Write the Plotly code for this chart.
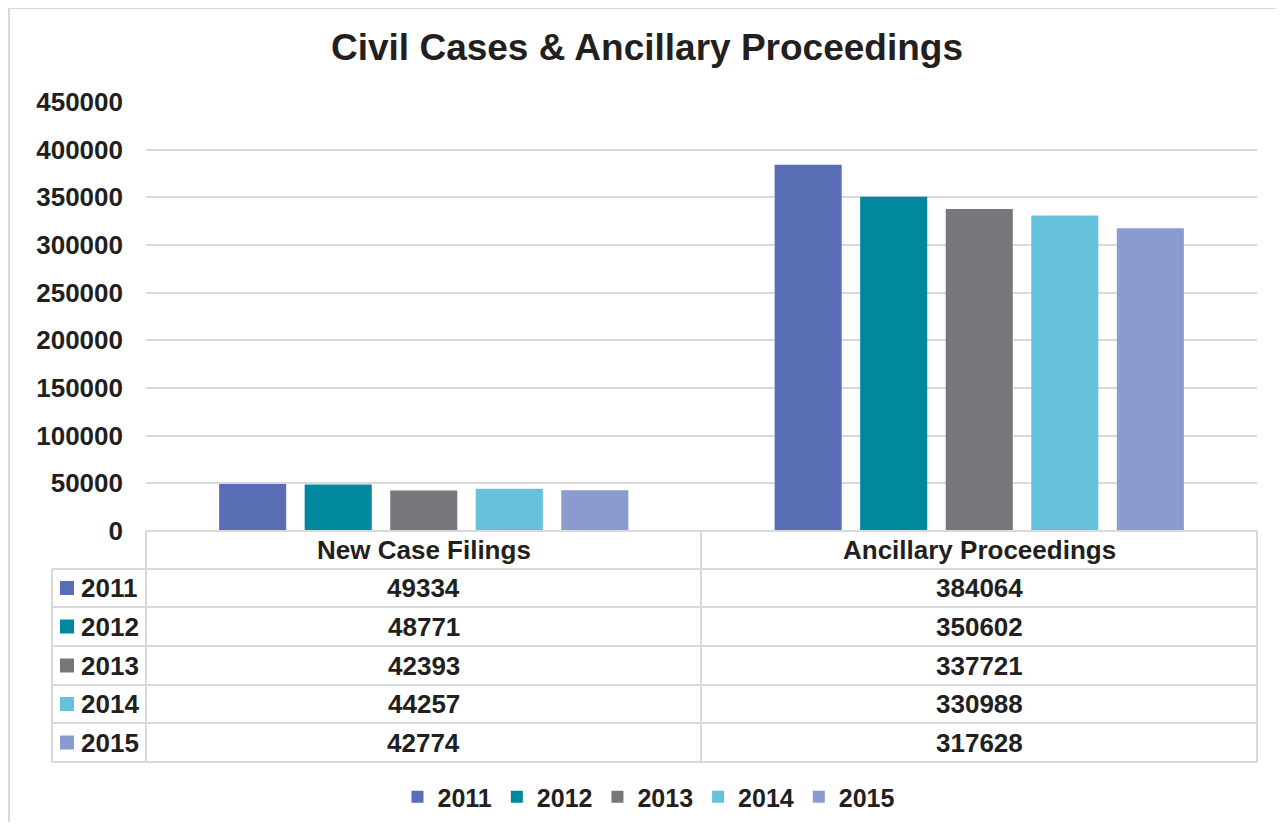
import plotly.graph_objects as go

categories = ["New Case Filings", "Ancillary Proceedings"]
years = ["2011", "2012", "2013", "2014", "2015"]
values = {
    "2011": [49334, 384064],
    "2012": [48771, 350602],
    "2013": [42393, 337721],
    "2014": [44257, 330988],
    "2015": [42774, 317628],
}
colors = ["#596EB4", "#00889E", "#76777B", "#66C1DA", "#8B9BCF"]
y_ticks = [0, 50000, 100000, 150000, 200000, 250000, 300000, 350000, 400000, 450000]

OFF = 8  # default page body margin
PAGE_W, PAGE_H = 1284, 830
W, H = PAGE_W - OFF, PAGE_H - 2 * OFF
L, R, T, B = 146, 1257, 102, 531  # plot area in page pixels
FONT = "Arial, Liberation Sans, sans-serif"
TXT = "#231F20"
GRID = "#D9D9D9"


def px(x):
    return (x - L) / (R - L)


def py(y):
    return (B - y) / (B - T)


def cx_(x):
    return (x - OFF) / W


def cy_(y):
    return 1 - (y - OFF) / H


fig = go.Figure()
for yr, c in zip(years, colors):
    fig.add_trace(go.Bar(x=categories, y=values[yr], name=yr, marker=dict(color=c, line=dict(width=0))))

shapes = []
# outer border (left and top)
shapes.append(dict(type="line", xref="paper", yref="paper", x0=px(9), x1=px(1290), y0=py(8), y1=py(8),
                   line=dict(color=GRID, width=2)))
shapes.append(dict(type="line", xref="paper", yref="paper", x0=px(9), x1=px(9), y0=py(8), y1=py(840),
                   line=dict(color=GRID, width=2)))

row_edges = [531, 569, 607, 646, 685, 723, 762]
for i, ry in enumerate(row_edges):
    x0 = 146 if i == 0 else 52
    shapes.append(dict(type="line", xref="paper", yref="paper", x0=px(x0), x1=px(1257), y0=py(ry), y1=py(ry),
                       line=dict(color=GRID, width=2)))
for vx, top in [(52, 569), (146, 531), (701, 531), (1257, 531)]:
    shapes.append(dict(type="line", xref="paper", yref="paper", x0=px(vx), x1=px(vx), y0=py(top), y1=py(762),
                       line=dict(color=GRID, width=2)))

annotations = []
col_centers = [423.5, 979]
hdr_y = (531 + 569) / 2
fnt = dict(family=FONT, size=26, color=TXT, weight="bold")
for cat, cx in zip(categories, col_centers):
    annotations.append(dict(text=cat, xref="paper", yref="paper", x=px(cx), y=py(hdr_y), showarrow=False,
                            xanchor="center", yanchor="middle", font=fnt))
for i, (yr, c) in enumerate(zip(years, colors)):
    cy = (row_edges[i + 1] + row_edges[i + 2]) / 2
    shapes.append(dict(type="rect", xref="paper", yref="paper", x0=px(60), x1=px(74), y0=py(cy - 7), y1=py(cy + 7),
                       fillcolor=c, line=dict(width=0)))
    annotations.append(dict(text=yr, xref="paper", yref="paper", x=px(79), y=py(cy), showarrow=False,
                            xanchor="left", yanchor="middle", font=fnt))
    for j, cx in enumerate(col_centers):
        annotations.append(dict(text=str(values[yr][j]), xref="paper", yref="paper", x=px(cx), y=py(cy),
                                showarrow=False, xanchor="center", yanchor="middle", font=fnt))

fig.update_layout(
    width=W, height=H,
    margin=dict(l=L - OFF, r=PAGE_W - R, t=T - OFF, b=(H + OFF) - B, pad=0, autoexpand=False),
    paper_bgcolor="white", plot_bgcolor="white",
    title=dict(text="Civil Cases & Ancillary Proceedings", xref="container", x=cx_(647), xanchor="center",
               yref="container", y=cy_(47), yanchor="middle",
               font=dict(family=FONT, size=37, color=TXT, weight="bold")),
    barmode="group", bargap=0.23, bargroupgap=0.216,
    xaxis=dict(showticklabels=False, showgrid=False, zeroline=False, showline=False, ticks=""),
    yaxis=dict(range=[0, 450000], tickvals=y_ticks, ticktext=[str(v) for v in y_ticks], showgrid=True,
               gridcolor=GRID, gridwidth=2, zeroline=False, showline=False, ticks="", ticklabelstandoff=22,
               tickfont=fnt),
    legend=dict(orientation="h", xref="container", x=cx_(649), xanchor="center",
                yref="container", y=cy_(797), yanchor="middle",
                font=dict(family=FONT, size=25, color=TXT, weight="bold"), itemwidth=30, tracegroupgap=0),
    shapes=shapes, annotations=annotations,
)

fig.write_html("out.html")
